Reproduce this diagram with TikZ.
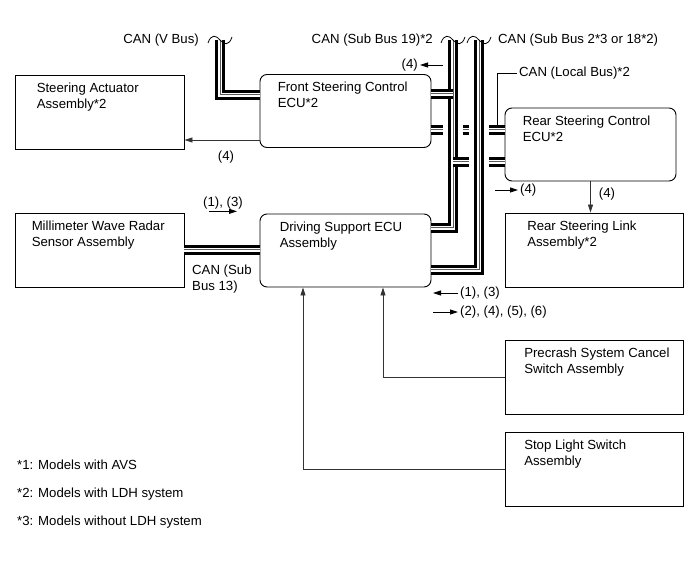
\documentclass[tikz,border=0pt]{standalone}
\usepackage{fontspec}
\setmainfont{Liberation Sans}
\usetikzlibrary{arrows.meta,positioning}

\begin{document}
\begin{tikzpicture}[x=1pt,y=-1pt,font=\fontsize{13.2}{16}\selectfont,
    every node/.style={inner sep=2pt},
    box/.style={draw,line width=.9pt,inner sep=0,minimum width=#1,minimum height=74pt},
    ecu/.style={box=#1,minimum height=73pt,rounded corners=7pt},
    txt/.style={anchor=north west,align=left,inner sep=0,xshift=#1,yshift=-8pt},
    txt/.default=18pt,
    bus/.style={line width=9.5pt,postaction={draw,white,line width=4.8pt},postaction={draw,black!65,line width=1pt}},
    busgap/.style={white,line width=20pt},
    brk/.style={line width=.8pt},
    sig/.style={line width=.7pt,draw=black!80,-{Triangle[length=8pt,width=5pt]}},
    dirarrow/.style={line width=.8pt,-{Triangle[length=8pt,width=5pt]}}]
  \useasboundingbox (0,0) rectangle (689,561);

  \node[box=169pt,label={[txt=22pt]north west:Steering Actuator\\Assembly*2}] (act) at (99.5,112) {};
  \node[box=169pt,label={[txt=17pt]north west:Millimeter Wave Radar\\Sensor Assembly}] (radar) at (99.5,250) {};
  \node[ecu=171pt,label={[txt]north west:Front Steering Control\\ECU*2}] (fecu) at (345.5,111) {};
  \node[ecu=171pt,label={[txt=20pt]north west:Driving Support ECU\\Assembly}] (dsecu) at (345.5,250.5) {};
  \node[ecu=171pt,label={[txt]north west:Rear Steering Control\\ECU*2}] (recu) at (590.5,144.5) {};
  \node[box=178pt,label={[txt=22pt]north west:Rear Steering Link\\Assembly*2}] (link) at (594.5,250) {};
  \node[box=178pt,label={[txt=19pt]north west:Precrash System Cancel\\Switch Assembly}] (pcs) at (594.5,377.5) {};
  \node[box=178pt,label={[txt=19pt]north west:Stop Light Switch\\Assembly}] (stop) at (594.5,469.5) {};

  \coordinate (bv) at (220,40);
  \coordinate (b19) at (453,40);
  \coordinate (b2) at (479,40);
  \coordinate (lx) at (497,0);
  \path ([yshift=-19pt]fecu.east) coordinate (floc)
        ([yshift=17pt]fecu.east) coordinate (f19)
        ([yshift=16pt]fecu.west) coordinate (fv)
        ([yshift=-29pt]fecu.west) coordinate (fa)
        ([yshift=-17.5pt]recu.west) coordinate (r19)
        ([yshift=22.5pt]dsecu.east) coordinate (d19)
        ([yshift=-19.5pt]dsecu.east) coordinate (d2)
        (floc -| lx) coordinate (lb);

  \draw[bus] (floc) -- (floc -| recu.west);
  \draw[busgap] (b19) -- (b19 |- d19);
  \draw[bus] (b19) |- (d19);
  \draw[bus] (f19) -- (f19 -| b19);
  \draw[bus] (r19 -| b19) -- (r19);
  \draw[busgap] (b2) -- (b2 |- d2);
  \draw[bus] (b2) |- (d2);
  \draw[bus] (bv) |- (fv);
  \draw[bus] (radar.east) -- (radar.east -| dsecu.west);
  \foreach \x in {220,453,479}
    \draw[brk] (\x-12,43) .. controls (\x-9,34) and (\x-4,35) .. (\x,40)
      .. controls (\x+4,45) and (\x+9,46) .. (\x+12,37);

  \node[left=19pt of bv] (lvbus) {CAN (V Bus)};
  \node[left=18pt of b19] (lsb19) {CAN (Sub Bus 19)*2};
  \node[right=17pt of b2] (lsb2) {CAN (Sub Bus 2*3 or 18*2)};
  \node[anchor=west] (lloc) at (517,73) {CAN (Local Bus)*2};
  \draw[line width=.7pt] ([yshift=4.75pt]lb) |- (lloc.west);

  \draw[sig] (fa) -- (fa -| act.east);
  \node (a4) at (226,157) {(4)};
  \draw[sig] (recu.south) -- (recu.south |- link.north);
  \node (l4) at (607,194) {(4)};
  \draw[sig] (pcs.west) -| ([xshift=37.5pt]dsecu.south);
  \draw[sig] (stop.west) -| ([xshift=-42.5pt]dsecu.south);

  \node[anchor=east] (t4) at (420,65) {(4)};
  \draw[dirarrow] ([xshift=23pt]t4.east) -- (t4.east);
  \node[anchor=west] (r4) at (518,190) {(4)};
  \draw[dirarrow] ([xshift=-23pt]r4.west) -- (r4.west);
  \node (u13) at (223,203) {(1), (3)};
  \draw[dirarrow] ([xshift=-14pt]u13.south) -- ([xshift=14pt]u13.south);
  \node[anchor=north west,align=left] (l13) at (190,263) {CAN (Sub\\Bus 13)};
  \node[anchor=west] (d13) at (458,293) {(1), (3)};
  \draw[dirarrow] (d13.west) -- ++(-25,0);
  \node[anchor=west] (d2456) at (458,312) {(2), (4), (5), (6)};
  \draw[dirarrow] ([xshift=-25pt]d2456.west) -- (d2456.west);

  \foreach \y/\t in {465/{*1: Models with AVS},494/{*2: Models with LDH system},522/{*3: Models without LDH system}}
    \node[anchor=west] (fn\y) at (15,\y) {\t};
\end{tikzpicture}
\end{document}
